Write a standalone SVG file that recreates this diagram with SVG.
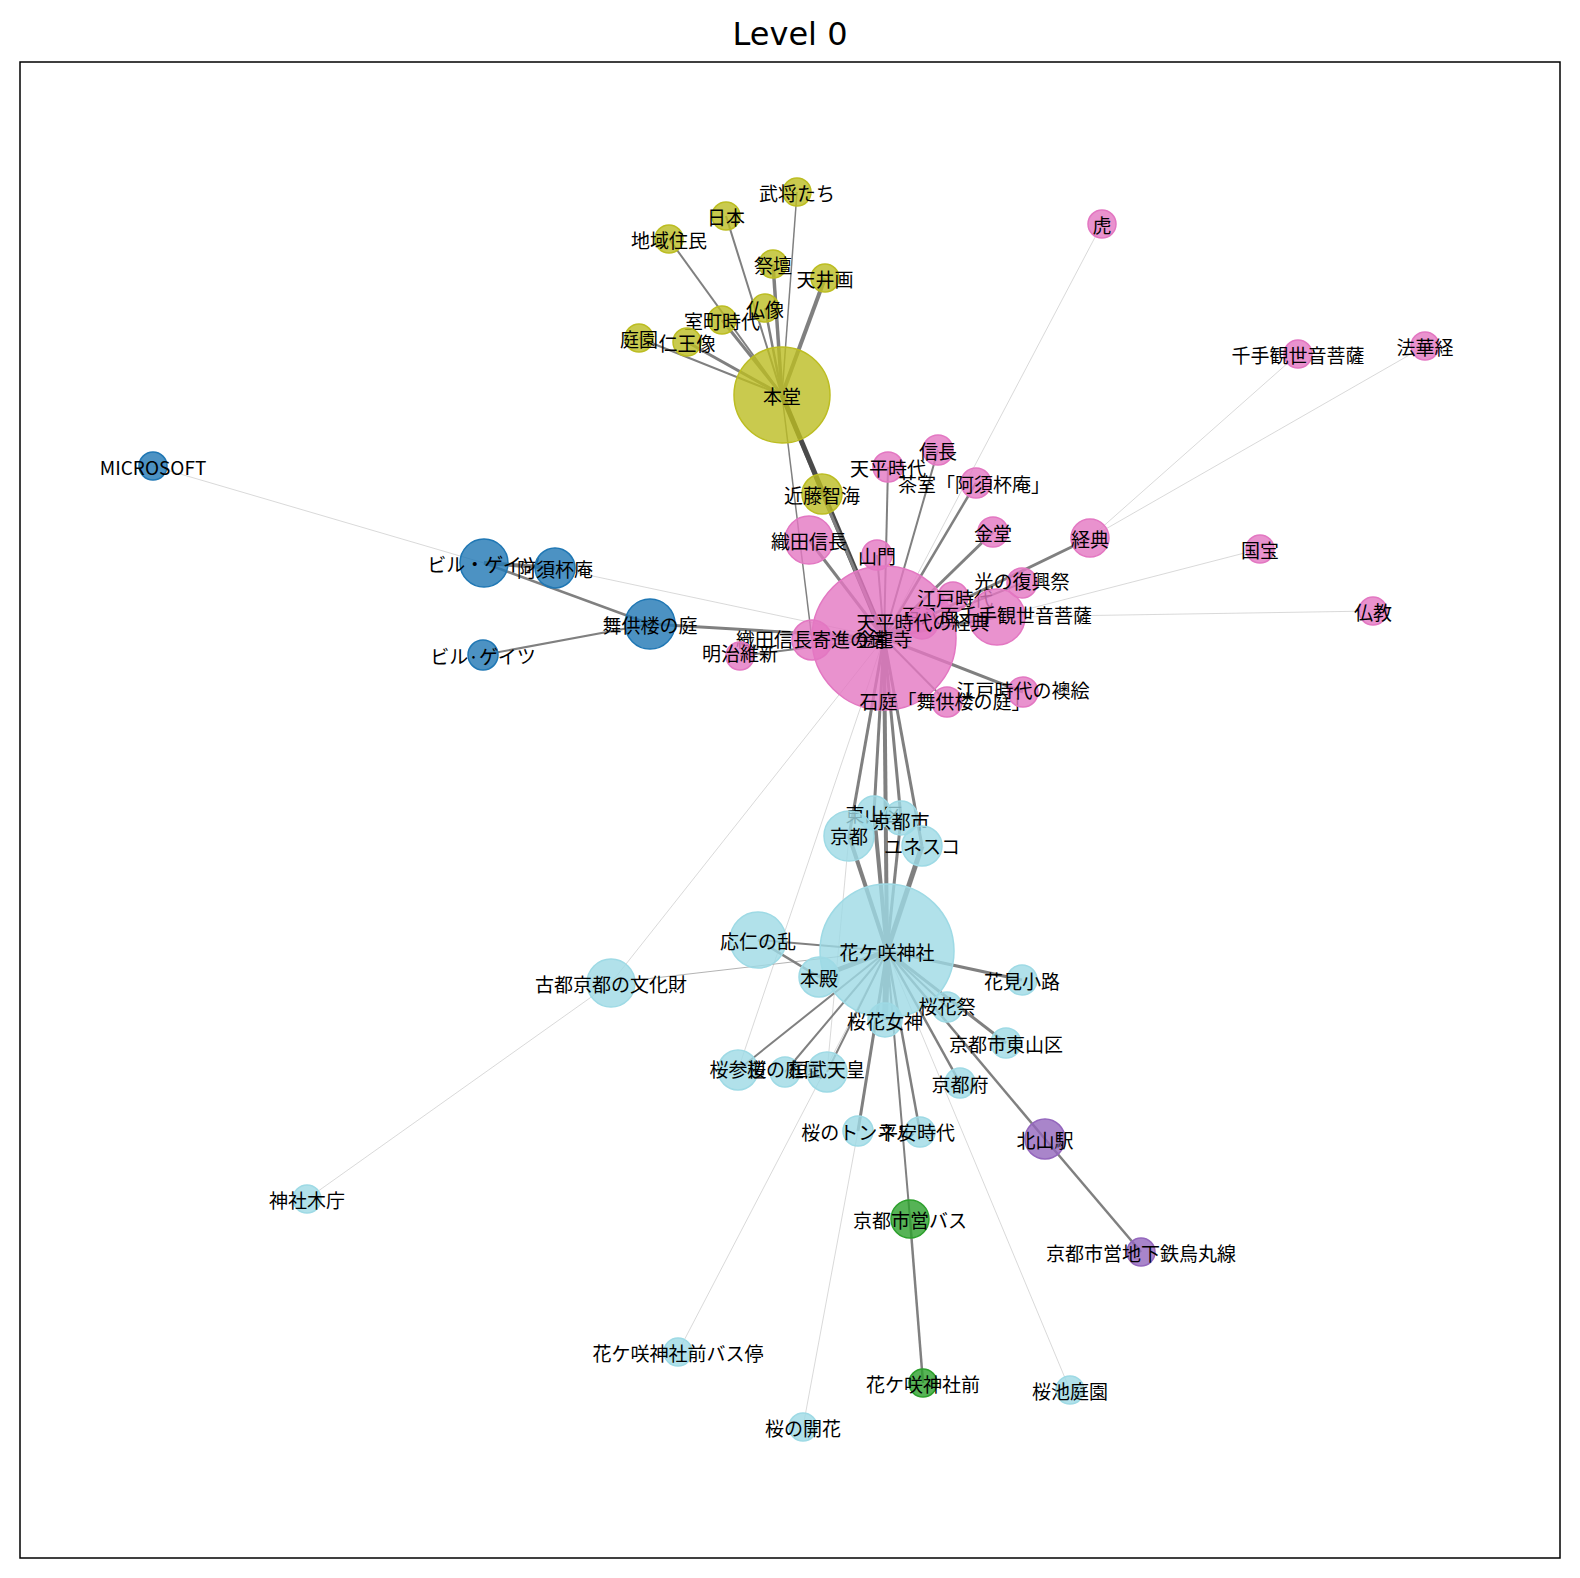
<svg xmlns="http://www.w3.org/2000/svg" width="1580" height="1578" viewBox="0 0 1580 1578">
<style>
.e{stroke:#808080;fill:none}
.d{stroke:#4a4a4a;fill:none}
.t{stroke:#c8c8c8;stroke-width:0.7;fill:none}
circle{stroke-width:1.5}
.y circle{fill:#bcbd22;fill-opacity:.8;stroke:#bcbd22}
.p circle{fill:#e377c2;fill-opacity:.8;stroke:#e377c2}
.b circle{fill:#1f77b4;fill-opacity:.8;stroke:#1f77b4}
.c circle{fill:#9edae5;fill-opacity:.8;stroke:#9edae5}
.g circle{fill:#2ca02c;fill-opacity:.8;stroke:#2ca02c}
.v circle{fill:#9467bd;fill-opacity:.8;stroke:#9467bd}
text{font-family:"Noto Sans CJK JP","Noto Sans",sans-serif;font-size:19px;text-anchor:middle;dominant-baseline:central;fill:#000}
.title{font-family:"DejaVu Sans",sans-serif;font-size:32px}
</style>
<rect width="1580" height="1578" fill="#fff"/>
<text class="title" x="790" y="34">Level 0</text>
<rect x="20" y="62" width="1540" height="1496" fill="none" stroke="#000" stroke-width="1.5"/>
<g id="edges">
<line class="t" x1="153" y1="466" x2="484" y2="563"/>
<line class="t" x1="555" y1="568" x2="884" y2="638"/>
<line class="t" x1="884" y1="638" x2="1102" y2="224"/>
<line class="t" x1="1090" y1="538" x2="1298" y2="354"/>
<line class="t" x1="1090" y1="538" x2="1425" y2="346"/>
<line class="t" x1="997" y1="617" x2="1260" y2="549"/>
<line class="t" x1="997" y1="617" x2="1373" y2="611"/>
<line class="t" x1="884" y1="638" x2="611" y2="983"/>
<line class="t" x1="611" y1="983" x2="307" y2="1199"/>
<line class="t" x1="884" y1="638" x2="738" y2="1070"/>
<line class="t" x1="849" y1="836" x2="827" y2="1072"/>
<line class="t" x1="887" y1="951" x2="678" y2="1352"/>
<line class="t" x1="858" y1="1131" x2="803" y2="1427"/>
<line class="t" x1="887" y1="951" x2="1070" y2="1390"/>
<line class="e" stroke-width="1.5" x1="782" y1="395" x2="797" y2="192"/>
<line class="e" stroke-width="2" x1="782" y1="395" x2="726" y2="216"/>
<line class="e" stroke-width="2" x1="782" y1="395" x2="669" y2="239"/>
<line class="e" stroke-width="3.5" x1="782" y1="395" x2="773" y2="264"/>
<line class="e" stroke-width="4" x1="782" y1="395" x2="825" y2="278"/>
<line class="e" stroke-width="2.5" x1="782" y1="395" x2="765" y2="308"/>
<line class="e" stroke-width="3" x1="782" y1="395" x2="722" y2="320"/>
<line class="e" stroke-width="2" x1="782" y1="395" x2="639" y2="338"/>
<line class="e" stroke-width="3" x1="782" y1="395" x2="687" y2="342"/>
<line class="e" stroke-width="3" x1="782" y1="395" x2="822" y2="494"/>
<line class="e" stroke-width="1.5" x1="782" y1="395" x2="812" y2="640"/>
<line class="d" stroke-width="5" x1="782" y1="395" x2="884" y2="638"/>
<line class="e" stroke-width="3" x1="822" y1="494" x2="884" y2="638"/>
<line class="e" stroke-width="3" x1="884" y1="638" x2="809" y2="540"/>
<line class="e" stroke-width="2" x1="884" y1="638" x2="888" y2="467"/>
<line class="e" stroke-width="2" x1="884" y1="638" x2="938" y2="450"/>
<line class="e" stroke-width="2.5" x1="884" y1="638" x2="976" y2="483"/>
<line class="e" stroke-width="3" x1="884" y1="638" x2="993" y2="532"/>
<line class="e" stroke-width="3" x1="884" y1="638" x2="1090" y2="538"/>
<line class="e" stroke-width="2" x1="884" y1="638" x2="877" y2="555"/>
<line class="e" stroke-width="2" x1="884" y1="638" x2="1022" y2="583"/>
<line class="e" stroke-width="3" x1="884" y1="638" x2="953" y2="597"/>
<line class="e" stroke-width="3" x1="884" y1="638" x2="997" y2="617"/>
<line class="e" stroke-width="3" x1="884" y1="638" x2="922" y2="623"/>
<line class="e" stroke-width="3" x1="884" y1="638" x2="1023" y2="692"/>
<line class="e" stroke-width="2" x1="884" y1="638" x2="947" y2="702"/>
<line class="e" stroke-width="2" x1="884" y1="638" x2="740" y2="656"/>
<line class="e" stroke-width="3" x1="884" y1="638" x2="650" y2="624"/>
<line class="e" stroke-width="3" x1="884" y1="638" x2="812" y2="640"/>
<line class="e" stroke-width="4" x1="484" y1="563" x2="555" y2="568"/>
<line class="e" stroke-width="2.5" x1="484" y1="563" x2="650" y2="624"/>
<line class="e" stroke-width="2" x1="483" y1="655" x2="650" y2="624"/>
<line class="e" stroke-width="4" x1="884" y1="638" x2="887" y2="951"/>
<line class="e" stroke-width="3" x1="884" y1="638" x2="849" y2="836"/>
<line class="e" stroke-width="3" x1="884" y1="638" x2="874" y2="813"/>
<line class="e" stroke-width="3" x1="884" y1="638" x2="901" y2="818"/>
<line class="e" stroke-width="3" x1="884" y1="638" x2="922" y2="846"/>
<line class="e" stroke-width="4" x1="849" y1="836" x2="887" y2="951"/>
<line class="e" stroke-width="4" x1="874" y1="813" x2="887" y2="951"/>
<line class="e" stroke-width="3" x1="901" y1="818" x2="887" y2="951"/>
<line class="e" stroke-width="5" x1="922" y1="846" x2="887" y2="951"/>
<line class="e" stroke-width="1" stroke-opacity=".6" x1="611" y1="983" x2="887" y2="951"/>
<line class="e" stroke-width="2" x1="887" y1="951" x2="758" y2="940"/>
<line class="e" stroke-width="2.5" x1="758" y1="940" x2="819" y2="977"/>
<line class="e" stroke-width="5" x1="887" y1="951" x2="819" y2="977"/>
<line class="e" stroke-width="3" x1="887" y1="951" x2="1022" y2="980"/>
<line class="e" stroke-width="2" x1="887" y1="951" x2="947" y2="1007"/>
<line class="e" stroke-width="6" x1="887" y1="951" x2="885" y2="1020"/>
<line class="e" stroke-width="3" x1="887" y1="951" x2="1006" y2="1043"/>
<line class="e" stroke-width="2.5" x1="887" y1="951" x2="960" y2="1083"/>
<line class="e" stroke-width="2" x1="887" y1="951" x2="738" y2="1070"/>
<line class="e" stroke-width="2" x1="887" y1="951" x2="785" y2="1072"/>
<line class="e" stroke-width="2" x1="887" y1="951" x2="827" y2="1072"/>
<line class="e" stroke-width="3" x1="887" y1="951" x2="858" y2="1131"/>
<line class="e" stroke-width="2.5" x1="887" y1="951" x2="920" y2="1132"/>
<line class="e" stroke-width="2" x1="887" y1="951" x2="910" y2="1219"/>
<line class="e" stroke-width="2.5" x1="887" y1="951" x2="1045" y2="1139"/>
<line class="e" stroke-width="2.5" x1="1045" y1="1139" x2="1141" y2="1252"/>
<line class="e" stroke-width="2.5" x1="910" y1="1219" x2="923" y2="1383"/>
</g>
<g id="nodes">
<g id="hondo" class="y"><circle cx="782" cy="395" r="48"/><text x="782" y="395">本堂</text></g>
<g id="busho" class="y"><circle cx="797" cy="192" r="14"/><text x="797" y="192">武将たち</text></g>
<g id="nihon" class="y"><circle cx="726" cy="216" r="14"/><text x="726" y="216">日本</text></g>
<g id="chiiki" class="y"><circle cx="669" cy="239" r="14"/><text x="669" y="239">地域住民</text></g>
<g id="saidan" class="y"><circle cx="773" cy="264" r="14"/><text x="773" y="264">祭壇</text></g>
<g id="tenjo" class="y"><circle cx="825" cy="278" r="14"/><text x="825" y="278">天井画</text></g>
<g id="butsuzo" class="y"><circle cx="765" cy="308" r="14"/><text x="765" y="308">仏像</text></g>
<g id="muromachi" class="y"><circle cx="722" cy="320" r="14"/><text x="722" y="320">室町時代</text></g>
<g id="teien" class="y"><circle cx="639" cy="338" r="14"/><text x="639" y="338">庭園</text></g>
<g id="nio" class="y"><circle cx="687" cy="342" r="14"/><text x="687" y="342">仁王像</text></g>
<g id="kondo-chikai" class="y"><circle cx="822" cy="494" r="20"/><text x="822" y="494">近藤智海</text></g>

<g id="kinryuji" class="p"><circle cx="884" cy="638" r="72"/><text x="884" y="638">金龍寺</text></g>
<g id="oda" class="p"><circle cx="809" cy="540" r="24"/><text x="809" y="540">織田信長</text></g>
<g id="nobunaga" class="p"><circle cx="938" cy="450" r="15"/><text x="938" y="450">信長</text></g>
<g id="tenpyo" class="p"><circle cx="888" cy="467" r="15"/><text x="888" y="467">天平時代</text></g>
<g id="chashitsu" class="p"><circle cx="976" cy="483" r="15"/><text x="974" y="483">茶室「阿須杯庵」</text></g>
<g id="kondo" class="p"><circle cx="993" cy="532" r="15"/><text x="993" y="532">金堂</text></g>
<g id="kyoten" class="p"><circle cx="1090" cy="538" r="19"/><text x="1090" y="538">経典</text></g>
<g id="sanmon" class="p"><circle cx="877" cy="555" r="15"/><text x="877" y="555">山門</text></g>
<g id="hikari" class="p"><circle cx="1022" cy="583" r="15"/><text x="1022" y="580">光の復興祭</text></g>
<g id="edo" class="p"><circle cx="953" cy="597" r="15"/><text x="955" y="597">江戸時代</text></g>
<g id="hyakuhachi" class="p"><circle cx="997" cy="617" r="28"/><text x="997" y="614">百八面千手観世音菩薩</text></g>
<g id="tenpyo-kyoten" class="p"><circle cx="922" cy="623" r="16"/><text x="923" y="621">天平時代の経典</text></g>
<g id="kane" class="p"><circle cx="812" cy="640" r="20"/><text x="812" y="638">織田信長寄進の鐘</text></g>
<g id="meiji" class="p"><circle cx="740" cy="656" r="14"/><text x="740" y="652">明治維新</text></g>
<g id="sekitei" class="p"><circle cx="947" cy="702" r="15"/><text x="945" y="700">石庭「舞供楼の庭」</text></g>
<g id="fusuma" class="p"><circle cx="1023" cy="692" r="15"/><text x="1023" y="689">江戸時代の襖絵</text></g>
<g id="tora" class="p"><circle cx="1102" cy="224" r="14"/><text x="1102" y="224">虎</text></g>
<g id="senju" class="p"><circle cx="1298" cy="354" r="14"/><text x="1298" y="354">千手観世音菩薩</text></g>
<g id="hokekyo" class="p"><circle cx="1425" cy="346" r="14"/><text x="1425" y="346">法華経</text></g>
<g id="kokuho" class="p"><circle cx="1260" cy="549" r="14"/><text x="1260" y="549">国宝</text></g>
<g id="bukkyo" class="p"><circle cx="1373" cy="611" r="14"/><text x="1373" y="611">仏教</text></g>

<g id="microsoft" class="b"><circle cx="153" cy="466" r="14"/><text x="153" y="466">MICROSOFT</text></g>
<g id="bill1" class="b"><circle cx="484" cy="563" r="24"/><text x="484" y="563">ビル・ゲイツ</text></g>
<g id="asuhai" class="b"><circle cx="555" cy="568" r="20"/><text x="555" y="568">阿須杯庵</text></g>
<g id="bukuro" class="b"><circle cx="650" cy="624" r="25"/><text x="650" y="624">舞供楼の庭</text></g>
<g id="bill2" class="b"><circle cx="483" cy="655" r="15"/><text x="483" y="655">ビル·ゲイツ</text></g>

<g id="hanagasaki" class="c"><circle cx="887" cy="951" r="67"/><text x="887" y="951">花ケ咲神社</text></g>
<g id="higashiyama" class="c"><circle cx="874" cy="813" r="17"/><text x="874" y="813">東山区</text></g>
<g id="kyotoshi" class="c"><circle cx="901" cy="818" r="17"/><text x="901" y="820">京都市</text></g>
<g id="kyoto" class="c"><circle cx="849" cy="836" r="25"/><text x="849" y="835">京都</text></g>
<g id="unesco" class="c"><circle cx="922" cy="846" r="20"/><text x="922" y="845">ユネスコ</text></g>
<g id="onin" class="c"><circle cx="758" cy="940" r="28"/><text x="758" y="940">応仁の乱</text></g>
<g id="honden" class="c"><circle cx="819" cy="977" r="20"/><text x="819" y="977">本殿</text></g>
<g id="hanami" class="c"><circle cx="1022" cy="980" r="15"/><text x="1022" y="980">花見小路</text></g>
<g id="oukasai" class="c"><circle cx="947" cy="1007" r="15"/><text x="947" y="1005">桜花祭</text></g>
<g id="megami" class="c"><circle cx="885" cy="1020" r="17"/><text x="885" y="1020">桜花女神</text></g>
<g id="kyoto-higashiyama" class="c"><circle cx="1006" cy="1043" r="15"/><text x="1006" y="1043">京都市東山区</text></g>
<g id="kyotofu" class="c"><circle cx="960" cy="1083" r="15"/><text x="960" y="1083">京都府</text></g>
<g id="sando" class="c"><circle cx="738" cy="1070" r="20"/><text x="738" y="1068">桜参道</text></g>
<g id="sakura-teien" class="c"><circle cx="785" cy="1072" r="15"/><text x="785" y="1068">桜の庭園</text></g>
<g id="kanmu" class="c"><circle cx="827" cy="1072" r="20"/><text x="827" y="1068">桓武天皇</text></g>
<g id="tunnel" class="c"><circle cx="858" cy="1131" r="15"/><text x="858" y="1131">桜のトンネル</text></g>
<g id="heian" class="c"><circle cx="920" cy="1132" r="15"/><text x="917" y="1131">平安時代</text></g>
<g id="koto" class="c"><circle cx="611" cy="983" r="24"/><text x="611" y="983">古都京都の文化財</text></g>
<g id="jinja" class="c"><circle cx="307" cy="1199" r="14"/><text x="307" y="1199">神社木庁</text></g>
<g id="busstop" class="c"><circle cx="678" cy="1352" r="14"/><text x="678" y="1352">花ケ咲神社前バス停</text></g>
<g id="kaika" class="c"><circle cx="803" cy="1427" r="14"/><text x="803" y="1427">桜の開花</text></g>
<g id="sakuraike" class="c"><circle cx="1070" cy="1390" r="14"/><text x="1070" y="1390">桜池庭園</text></g>

<g id="citybus" class="g"><circle cx="910" cy="1219" r="19"/><text x="910" y="1219">京都市営バス</text></g>
<g id="jinjamae" class="g"><circle cx="923" cy="1383" r="14"/><text x="923" y="1383">花ケ咲神社前</text></g>

<g id="kitayama" class="v"><circle cx="1045" cy="1139" r="20"/><text x="1045" y="1139">北山駅</text></g>
<g id="karasuma" class="v"><circle cx="1141" cy="1252" r="14"/><text x="1141" y="1252">京都市営地下鉄烏丸線</text></g>
</g>
</svg>
